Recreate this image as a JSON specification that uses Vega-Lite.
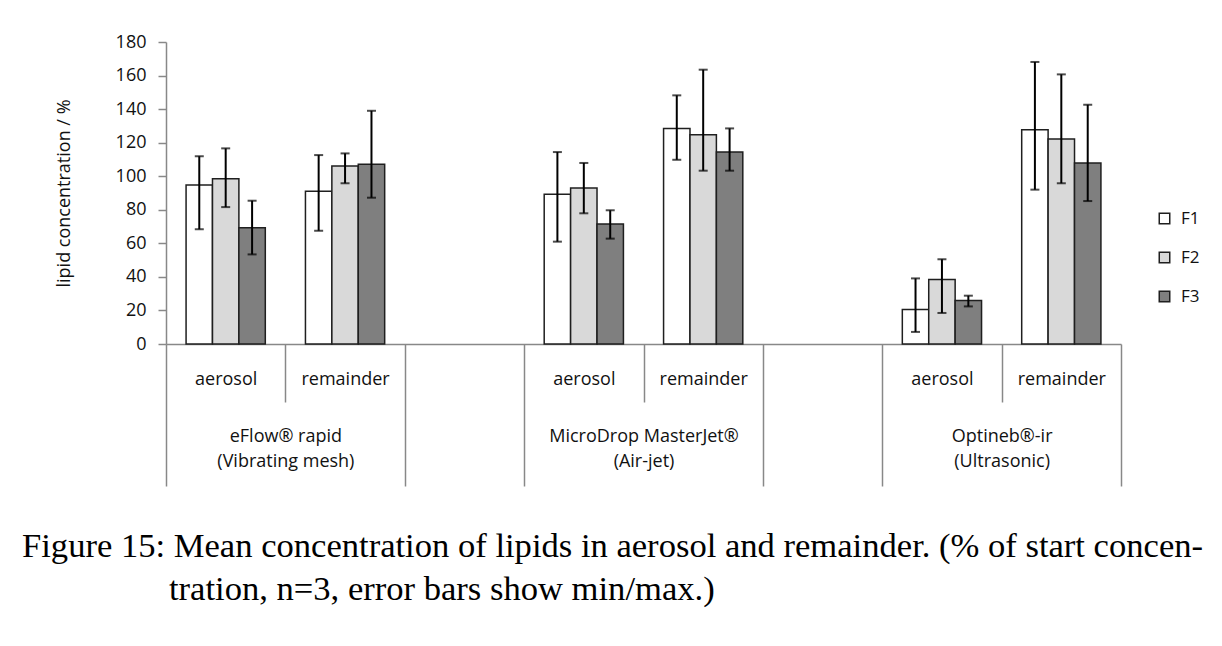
{
  "$schema": "https://vega.github.io/schema/vega-lite/v6.json",
  "width": 955,
  "height": 302,
  "autosize": {"type": "none"},
  "padding": {"left": 166, "top": 42, "right": 101, "bottom": 302},
  "background": "white",
  "title": {
    "text": [
      "Figure 15: Mean concentration of lipids in aerosol and remainder. (% of start concen-",
      "\u200b\u00a0\u00a0\u00a0\u00a0\u00a0\u00a0\u00a0\u00a0\u00a0\u00a0\u00a0\u00a0\u00a0\u00a0\u00a0\u00a0\u00a0tration, n=3, error bars show min/max.)"
    ],
    "orient": "bottom",
    "anchor": "start",
    "frame": "group",
    "dx": -144,
    "offset": 70,
    "baseline": "alphabetic",
    "font": "Liberation Serif",
    "fontSize": 34.6,
    "fontWeight": "normal",
    "color": "#000000",
    "lineHeight": 43.5
  },
  "data": {
    "values": [
      {"slot": "eFlow aerosol", "series": "F1", "mean": 94.8, "min": 68.4, "max": 111.9},
      {"slot": "eFlow aerosol", "series": "F2", "mean": 98.5, "min": 81.6, "max": 116.6},
      {"slot": "eFlow aerosol", "series": "F3", "mean": 69.3, "min": 53.4, "max": 85.4},
      {"slot": "eFlow remainder", "series": "F1", "mean": 91.0, "min": 67.5, "max": 112.6},
      {"slot": "eFlow remainder", "series": "F2", "mean": 106.1, "min": 95.8, "max": 113.6},
      {"slot": "eFlow remainder", "series": "F3", "mean": 107.1, "min": 87.2, "max": 139.0},
      {"slot": "MicroDrop aerosol", "series": "F1", "mean": 89.2, "min": 61.0, "max": 114.4},
      {"slot": "MicroDrop aerosol", "series": "F2", "mean": 93.0, "min": 77.9, "max": 107.9},
      {"slot": "MicroDrop aerosol", "series": "F3", "mean": 71.5, "min": 62.8, "max": 79.7},
      {"slot": "MicroDrop remainder", "series": "F1", "mean": 128.5, "min": 109.8, "max": 148.2},
      {"slot": "MicroDrop remainder", "series": "F2", "mean": 124.7, "min": 103.3, "max": 163.5},
      {"slot": "MicroDrop remainder", "series": "F3", "mean": 114.4, "min": 103.3, "max": 128.5},
      {"slot": "Optineb aerosol", "series": "F1", "mean": 20.5, "min": 7.2, "max": 39.1},
      {"slot": "Optineb aerosol", "series": "F2", "mean": 38.5, "min": 18.5, "max": 50.5},
      {"slot": "Optineb aerosol", "series": "F3", "mean": 26.0, "min": 22.4, "max": 28.8},
      {"slot": "Optineb remainder", "series": "F1", "mean": 127.7, "min": 92.0, "max": 168.1},
      {"slot": "Optineb remainder", "series": "F2", "mean": 122.2, "min": 95.8, "max": 160.7},
      {"slot": "Optineb remainder", "series": "F3", "mean": 107.9, "min": 85.2, "max": 142.6}
    ]
  },
  "resolve": {"axis": {"x": "independent"}},
  "layer": [
    {
      "mark": {"type": "bar", "stroke": "#1f1f1f", "strokeWidth": 1.5},
      "encoding": {
        "x": {
          "field": "slot", "type": "nominal",
          "scale": {"domain": ["eFlow aerosol", "eFlow remainder", "gap1", "MicroDrop aerosol", "MicroDrop remainder", "gap2", "Optineb aerosol", "Optineb remainder"], "paddingInner": 0, "paddingOuter": 0},
          "axis": {
            "orient": "bottom",
            "title": null,
            "tickBand": "extent",
            "tickSize": 142,
            "tickOpacity": {"condition": {"test": "!datum.extra && indexof(datum.value, 'aerosol') >= 0", "value": 0}, "value": 1},
            "labelExpr": "datum.extra ? '' : datum.value == 'eFlow aerosol' ? ['eFlow® rapid', '(Vibrating mesh)'] : datum.value == 'MicroDrop aerosol' ? ['MicroDrop MasterJet®', '(Air-jet)'] : datum.value == 'Optineb aerosol' ? ['Optineb®-ir', '(Ultrasonic)'] : ''",
            "labelAngle": 0,
            "labelOffset": 59.69,
            "labelPadding": -59,
            "labelLineHeight": 25,
            "labelLimit": 400,
            "labelOverlap": false
          }
        },
        "xOffset": {"field": "series", "type": "nominal", "scale": {"paddingInner": 0, "paddingOuter": 0.76}},
        "y": {
          "field": "mean", "type": "quantitative",
          "scale": {"domain": [0, 180], "nice": false},
          "axis": {"title": "lipid concentration / %", "values": [0, 20, 40, 60, 80, 100, 120, 140, 160, 180]}
        },
        "color": {
          "field": "series", "type": "nominal",
          "scale": {"domain": ["F1", "F2", "F3"], "range": ["#ffffff", "#d9d9d9", "#7f7f7f"]},
          "legend": {
            "title": null,
            "orient": "none",
            "legendX": 990,
            "legendY": 168,
            "padding": 0,
            "symbolType": "square",
            "symbolSize": 110,
            "symbolStrokeColor": "#1f1f1f",
            "symbolStrokeWidth": 1.5,
            "symbolOpacity": 1,
            "labelFont": "Open Sans",
            "labelFontSize": 17,
            "labelColor": "#111111",
            "labelOffset": 8,
            "rowPadding": 21
          }
        }
      }
    },
    {
      "mark": {"type": "rule", "color": "#000000", "strokeWidth": 2},
      "encoding": {
        "x": {
          "field": "slot", "type": "nominal",
          "axis": {
            "orient": "bottom",
            "title": null,
            "tickBand": "extent",
            "tickSize": 58,
            "domain": false,
            "tickOpacity": {"condition": {"test": "!datum.extra && indexof(datum.value, 'aerosol') >= 0", "value": 1}, "value": 0},
            "labelExpr": "datum.extra ? '' : indexof(datum.value, 'aerosol') >= 0 ? 'aerosol' : indexof(datum.value, 'remainder') >= 0 ? 'remainder' : ''",
            "labelAngle": 0,
            "labelPadding": -32,
            "labelLimit": 300,
            "labelOverlap": false
          }
        },
        "xOffset": {"field": "series", "type": "nominal"},
        "y": {"field": "min", "type": "quantitative", "axis": {"title": "lipid concentration / %", "values": [0, 20, 40, 60, 80, 100, 120, 140, 160, 180]}},
        "y2": {"field": "max"}
      }
    },
    {
      "mark": {"type": "tick", "color": "#000000", "thickness": 2, "size": 9},
      "encoding": {
        "x": {"field": "slot", "type": "nominal", "axis": null},
        "xOffset": {"field": "series", "type": "nominal"},
        "y": {"field": "min", "type": "quantitative", "axis": {"title": "lipid concentration / %", "values": [0, 20, 40, 60, 80, 100, 120, 140, 160, 180]}}
      }
    },
    {
      "mark": {"type": "tick", "color": "#000000", "thickness": 2, "size": 9},
      "encoding": {
        "x": {"field": "slot", "type": "nominal", "axis": null},
        "xOffset": {"field": "series", "type": "nominal"},
        "y": {"field": "max", "type": "quantitative", "axis": {"title": "lipid concentration / %", "values": [0, 20, 40, 60, 80, 100, 120, 140, 160, 180]}}
      }
    }
  ],
  "config": {
    "view": {"stroke": null},
    "font": "Open Sans",
    "axis": {
      "grid": false,
      "domainColor": "#888888",
      "tickColor": "#888888",
      "domainWidth": 1.5,
      "tickWidth": 1.5,
      "labelFont": "Open Sans",
      "labelFontSize": 18,
      "labelColor": "#111111",
      "titleFont": "Open Sans",
      "titleFontSize": 18,
      "titleFontWeight": "normal",
      "titleColor": "#111111"
    },
    "axisY": {"tickSize": 8, "labelPadding": 12, "titlePadding": 42}
  }
}
